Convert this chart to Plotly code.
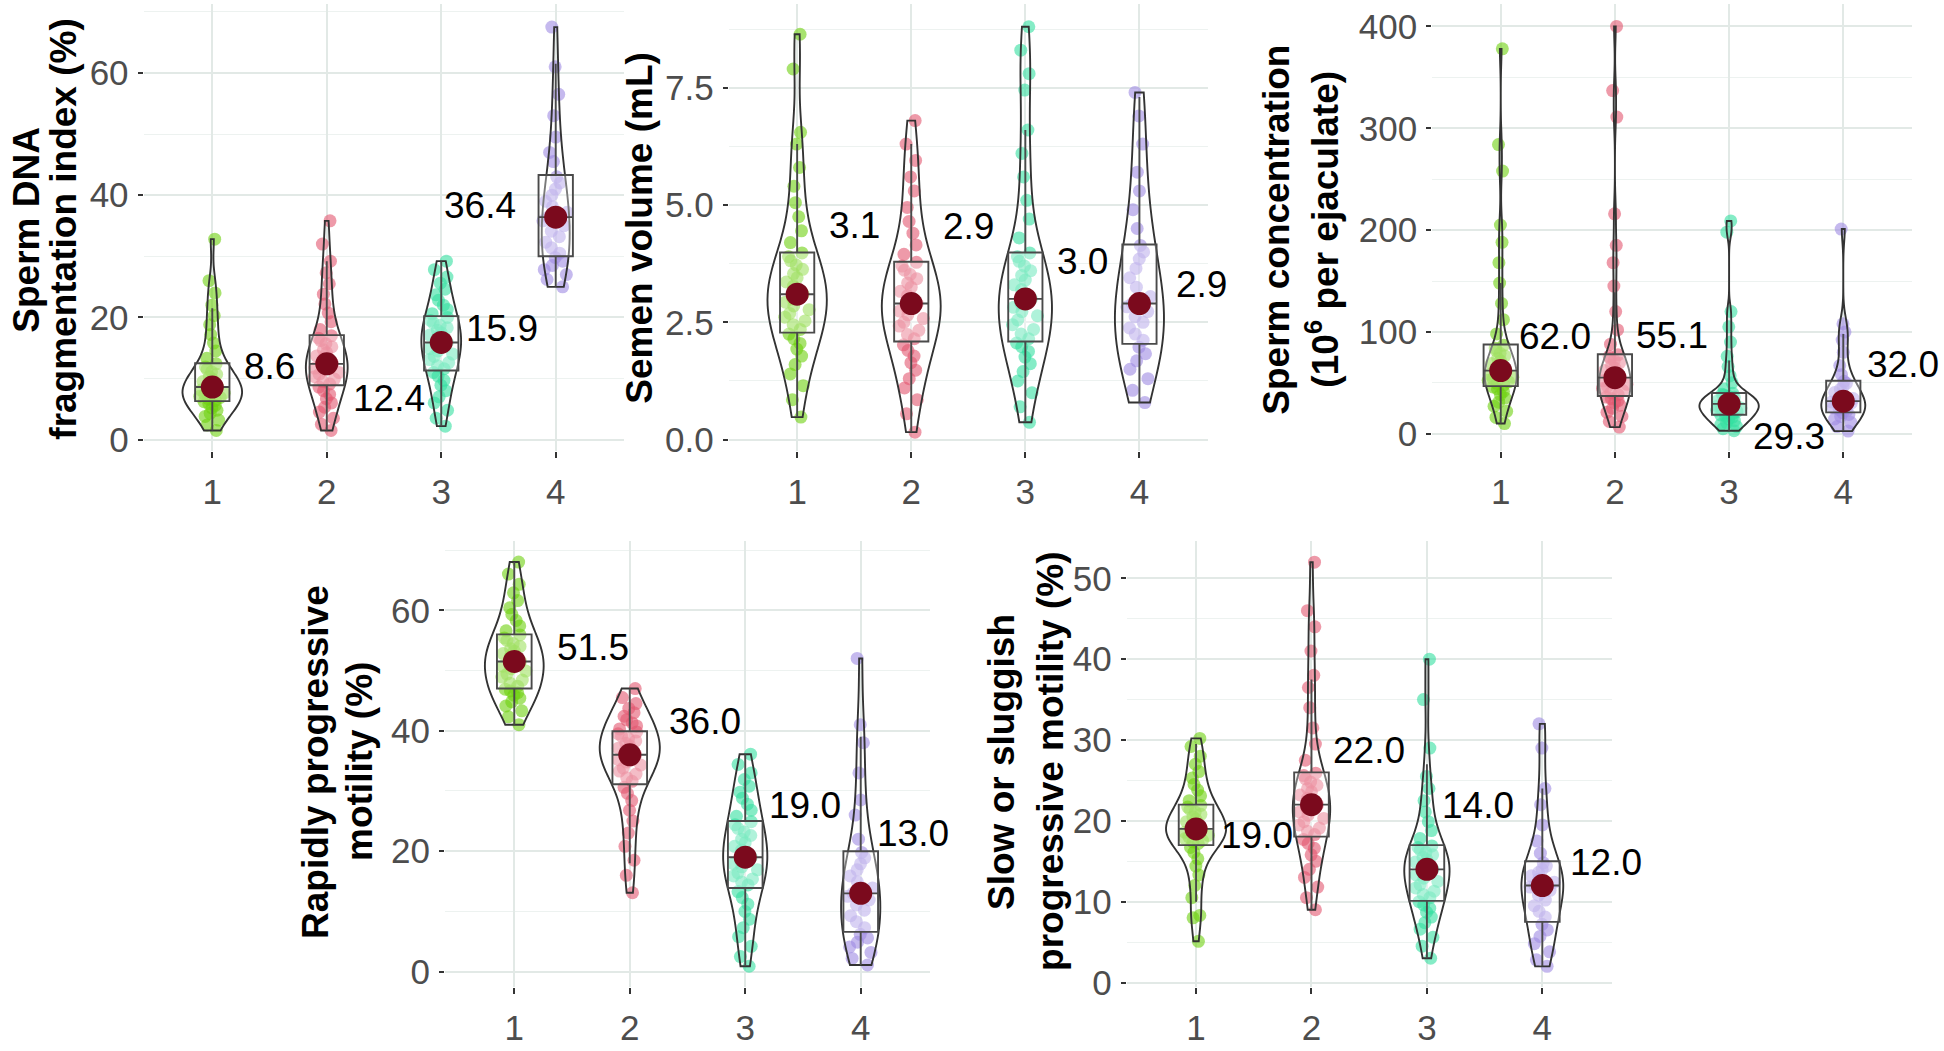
import plotly.graph_objects as go

# ---------------------------------------------------------------- data
categories = [1, 2, 3, 4]
tick_text = ["1", "2", "3", "4"]

# Sperm DNA fragmentation index (%)
dfi_c1 = [1.5, 2.4, 3.2, 3.8, 4.3, 4.8, 5.2, 5.6, 5.9, 6.2,
          6.4, 6.7, 6.9, 7.1, 7.4, 7.6, 7.9, 8.1, 8.3, 8.5, 8.6,
          8.8, 9.2, 9.5, 9.9, 10.3, 10.7, 11.1, 11.5, 11.9, 12.4,
          13.3, 14.5, 15.8, 17.2, 18.8, 20.3, 22.0, 24.0, 26.0, 32.8]
dfi_c2 = [1.5, 2.5, 3.5, 4.5, 5.3, 6.0, 6.7, 7.4, 8.0, 8.6,
          9.1, 9.5, 9.9, 10.3, 10.7, 11.0, 11.4, 11.7, 12.0, 12.2, 12.4,
          12.8, 13.2, 13.7, 14.2, 14.7, 15.2, 15.7, 16.2, 16.6, 17.0,
          18.0, 19.3, 20.7, 22.2, 23.8, 25.5, 27.3, 29.2, 32.0, 35.8]
dfi_c3 = [2.2, 3.5, 4.8, 6.0, 7.0, 8.0, 8.9, 9.7, 10.4, 11.0,
          11.6, 12.1, 12.6, 13.1, 13.6, 14.0, 14.5, 14.9, 15.3, 15.7, 15.9,
          16.3, 16.7, 17.1, 17.5, 17.9, 18.3, 18.7, 19.1, 19.5, 20.0,
          20.6, 21.3, 22.0, 22.8, 23.7, 24.6, 25.6, 26.6, 27.8, 29.2]
dfi_c4 = [25.0, 26.2, 27.0, 27.8, 28.5, 29.2, 29.8,
          30.5, 31.4, 32.3, 33.2, 34.1, 35.0, 35.8, 36.4,
          37.2, 38.1, 39.0, 40.0, 41.0, 42.0, 43.0,
          45.5, 47.0, 49.5, 53.0, 56.5, 61.0, 67.5]
dfi_q1 = [6.3, 8.9, 11.3, 30.0]
dfi_median = [8.6, 12.4, 15.9, 36.4]
dfi_q3 = [12.5, 17.1, 20.2, 43.3]
dfi_lower = [1.5, 1.5, 2.2, 25.0]
dfi_upper = [21.5, 29.2, 29.2, 61.5]

# Semen volume (mL)
vol_c1 = [0.48, 0.85, 1.15, 1.4, 1.6, 1.78, 1.93, 2.05, 2.15, 2.25,
          2.35, 2.45, 2.53, 2.61, 2.69, 2.77, 2.85, 2.93, 3.0, 3.06, 3.1,
          3.18, 3.27, 3.36, 3.45, 3.54, 3.63, 3.72, 3.81, 3.9, 3.98,
          4.2, 4.45, 4.75, 5.05, 5.4, 5.8, 6.3, 6.55, 7.9, 8.64]
vol_c2 = [0.16, 0.55, 0.85, 1.1, 1.3, 1.48, 1.64, 1.78, 1.9, 2.02,
          2.15, 2.24, 2.33, 2.42, 2.5, 2.58, 2.66, 2.74, 2.81, 2.87, 2.9,
          2.98, 3.07, 3.16, 3.25, 3.34, 3.43, 3.52, 3.61, 3.7, 3.78,
          3.95, 4.15, 4.4, 4.65, 4.95, 5.3, 5.6, 5.95, 6.3, 6.8]
vol_c3 = [0.37, 0.7, 1.0, 1.25, 1.45, 1.62, 1.76, 1.88, 1.98, 2.06,
          2.15, 2.25, 2.35, 2.45, 2.55, 2.64, 2.73, 2.82, 2.9, 2.96, 3.0,
          3.1, 3.2, 3.3, 3.4, 3.5, 3.6, 3.7, 3.8, 3.9, 3.98,
          4.3, 4.7, 5.1, 5.6, 6.1, 6.6, 7.45, 7.8, 8.3, 8.8]
vol_c4 = [0.79, 1.05, 1.3, 1.5, 1.68, 1.83, 1.97,
          2.12, 2.25, 2.38, 2.5, 2.62, 2.73, 2.83, 2.9,
          3.05, 3.25, 3.45, 3.65, 3.85, 4.0, 4.14,
          4.5, 4.9, 5.3, 5.7, 6.3, 6.9, 7.4]
vol_q1 = [2.28, 2.09, 2.09, 2.04]
vol_median = [3.1, 2.9, 3.0, 2.9]
vol_q3 = [3.99, 3.79, 3.99, 4.16]
vol_lower = [0.48, 0.16, 0.37, 0.79]
vol_upper = [6.3, 6.3, 6.6, 7.3]

# Sperm concentration (10^6 per ejaculate)
conc_c1 = [10, 16, 22, 27, 31, 35, 38.5, 41.5, 44, 46,
           47.8, 49.5, 51, 52.5, 54, 55.5, 57, 58.5, 60, 61.2, 62,
           64, 66.5, 69, 71.5, 74, 76.5, 79, 81.5, 84, 87,
           98, 112, 128, 148, 168, 188, 205, 258, 284, 378]
conc_c2 = [6.5, 12, 17, 21, 25, 28, 30.5, 32.5, 34.5, 36,
           38.5, 40.5, 42.5, 44.5, 46.5, 48.5, 50.3, 52, 53.5, 54.5, 55.1,
           57, 59.5, 62, 64.5, 67, 69.5, 72, 74, 76, 77.5,
           88, 102, 120, 145, 168, 185, 216, 311, 337, 400]
conc_c3 = [3, 5, 7, 9, 11, 12.8, 14.5, 16, 17.3, 18.4,
           19.5, 20.7, 21.9, 23.1, 24.3, 25.4, 26.4, 27.3, 28.1, 28.8, 29.3,
           30.3, 31.4, 32.5, 33.6, 34.7, 35.8, 36.9, 37.9, 38.9, 39.8,
           44, 50, 57, 66, 76, 90, 105, 120, 198, 209]
conc_c4 = [2.6, 7, 11, 14.5, 17, 19, 20.5,
           22.5, 24, 25.5, 27, 28.5, 30, 31.2, 32,
           34.5, 37.5, 40.5, 43.5, 46.5, 49.5, 51.5,
           58, 67, 80, 92, 100, 108, 201]
conc_q1 = [46.8, 37.0, 18.7, 21.0]
conc_median = [62.0, 55.1, 29.3, 32.0]
conc_q3 = [87.7, 78.0, 40.0, 52.0]
conc_lower = [10, 6.5, 3, 2.6]
conc_upper = [148, 139, 72, 98]

# Rapidly progressive motility (%)
rapid_c1 = [41, 42.3, 43.3, 44.1, 44.8, 45.4, 45.9, 46.3, 46.6, 46.9,
            47.4, 47.9, 48.4, 48.9, 49.4, 49.9, 50.3, 50.7, 51.0, 51.3, 51.5,
            52, 52.4, 52.8, 53.2, 53.6, 54, 54.5, 55, 55.4, 55.9,
            56.6, 57.4, 58.3, 59.3, 60.4, 61.6, 62.9, 64.3, 66, 68]
rapid_c2 = [13.1, 16, 18.5, 20.8, 23, 25, 26.8, 28.4, 29.6, 30.6,
            31.6, 32.2, 32.8, 33.3, 33.8, 34.3, 34.8, 35.2, 35.5, 35.8, 36,
            36.3, 36.7, 37.1, 37.5, 37.9, 38.3, 38.7, 39.1, 39.5, 39.8,
            40.3, 40.8, 41.3, 41.8, 42.4, 43, 43.7, 44.5, 45.5, 47]
rapid_c3 = [0.9, 2.5, 4.2, 5.8, 7.3, 8.7, 10, 11.2, 12.3, 13.3,
            14.4, 14.9, 15.4, 15.9, 16.4, 16.9, 17.4, 17.9, 18.4, 18.8, 19,
            19.6, 20.2, 20.8, 21.4, 22, 22.6, 23.2, 23.8, 24.4, 24.9,
            25.8, 26.8, 27.8, 28.8, 29.8, 30.8, 31.9, 33, 34.4, 36.1]
rapid_c4 = [1.1, 2.2, 3.2, 4.1, 4.9, 5.6, 6.2,
            7.3, 8.3, 9.3, 10.2, 11.1, 11.9, 12.5, 13,
            13.9, 14.9, 15.9, 16.9, 17.9, 18.9, 19.8,
            22, 26, 28.5, 33, 38, 41, 52]
rapid_q1 = [47.0, 31.1, 13.9, 6.6]
rapid_median = [51.5, 36.0, 19.0, 13.0]
rapid_q3 = [56.0, 39.9, 25.0, 20.0]
rapid_lower = [41, 18, 0.9, 1.1]
rapid_upper = [68, 47, 36.1, 39]

# Slow or sluggish progressive motility (%)
slow_c1 = [5.1, 8, 8.3, 10.5, 12, 13.3, 14.4, 15.3, 16.1, 16.7,
           17.2, 17.4, 17.6, 17.8, 18, 18.2, 18.4, 18.6, 18.8, 18.9, 19,
           19.3, 19.6, 19.9, 20.2, 20.5, 20.8, 21.1, 21.4, 21.7, 21.9,
           22.5, 23.1, 23.8, 24.5, 25.3, 26.1, 27, 28, 29.2, 30.2]
slow_c2 = [9, 10.5, 11.8, 13, 14, 15, 15.8, 16.6, 17.2, 17.7,
           18.3, 18.7, 19.1, 19.5, 19.9, 20.3, 20.7, 21.1, 21.5, 21.8, 22,
           22.4, 22.8, 23.2, 23.6, 24, 24.4, 24.8, 25.2, 25.6, 25.9,
           27.5, 29.5, 31.5, 34, 36.5, 38, 41, 44, 46, 52]
slow_c3 = [3, 4.5, 5.6, 6.6, 7.4, 8.1, 8.7, 9.2, 9.6, 10,
           10.5, 10.9, 11.3, 11.7, 12.1, 12.5, 12.9, 13.3, 13.6, 13.8, 14,
           14.3, 14.6, 14.9, 15.2, 15.5, 15.8, 16.1, 16.4, 16.7, 16.9,
           17.8, 18.8, 19.9, 21.1, 22.5, 24, 25.5, 29, 35, 40]
slow_c4 = [2, 2.8, 3.8, 4.8, 5.7, 6.5, 7.2,
           8.1, 8.8, 9.5, 10.2, 10.8, 11.4, 11.8, 12,
           12.4, 12.8, 13.2, 13.6, 14, 14.4, 14.8,
           16, 17.5, 19.5, 22, 24, 29, 32]
slow_q1 = [17.0, 18.05, 10.1, 7.5]
slow_median = [19.0, 22.0, 14.0, 12.0]
slow_q3 = [22.0, 26.0, 17.0, 15.0]
slow_lower = [10, 9, 3, 2]
slow_upper = [29.5, 37.5, 27, 24]

# ---------------------------------------------------------------- style / layout
W, H = 1944, 1051
FONT = "Liberation Sans, Arial, Helvetica, sans-serif"
GROUP_COLORS = ["#6ED10F", "#E2566F", "#33E0A0", "#9E8AE2"]
DOT_COLOR = "#7B0A1D"
GRID = "#E2E9E6"
GRID_MINOR = "#EDF2F0"
VIOLIN_WIDTH = 0.52

panels = [
    dict(values=[dfi_c1, dfi_c2, dfi_c3, dfi_c4], q1=dfi_q1, med=dfi_median, q3=dfi_q3,
         lo=dfi_lower, hi=dfi_upper,
         xpx=(143.6, 624.4), ypx=(4, 458), yrange=[-1.94, 71.29], dtick=20, fmt="d",
         titles=[("<b>Sperm DNA</b>", 27, 233), ("<b>fragmentation index (%)</b>", 64, 233)],
         offsets=[(57, -21), (62, 35), (61, -14), (-76, -12)]),
    dict(values=[vol_c1, vol_c2, vol_c3, vol_c4], q1=vol_q1, med=vol_median, q3=vol_q3,
         lo=vol_lower, hi=vol_upper,
         xpx=(728.7, 1207.9), ypx=(4, 458), yrange=[-0.252, 9.286], dtick=2.5, fmt=".1f",
         titles=[("<b>Semen volume (mL)</b>", 640, 231)],
         offsets=[(57, -69), (57, -77), (57, -37), (62, -19)]),
    dict(values=[conc_c1, conc_c2, conc_c3, conc_c4], q1=conc_q1, med=conc_median, q3=conc_q3,
         lo=conc_lower, hi=conc_upper,
         xpx=(1432.2, 1911.8), ypx=(4, 458), yrange=[-17.4, 422.1], dtick=100, fmt="d",
         titles=[("<b>Sperm concentration</b>", 1277, 233),
                 ("<b>(10<sup>6</sup> per ejaculate)</b>", 1323, 233)],
         offsets=[(54, -34), (57, -42), (60, 33), (60, -37)]),
    dict(values=[rapid_c1, rapid_c2, rapid_c3, rapid_c4], q1=rapid_q1, med=rapid_median, q3=rapid_q3,
         lo=rapid_lower, hi=rapid_upper,
         xpx=(445, 930), ypx=(549, 1001), yrange=[-2.5, 71.47], dtick=20, fmt="d",
         titles=[("<b>Rapidly progressive</b>", 316, 773), ("<b>motility (%)</b>", 360, 773)],
         offsets=[(79, -14), (75, -33), (60, -52), (52, -60)]),
    dict(values=[slow_c1, slow_c2, slow_c3, slow_c4], q1=slow_q1, med=slow_median, q3=slow_q3,
         lo=slow_lower, hi=slow_upper,
         xpx=(1126.8, 1611.6), ypx=(549, 1001), yrange=[-0.52, 54.6], dtick=10, fmt="d",
         titles=[("<b>Slow or sluggish</b>", 1002, 773),
                 ("<b>progressive motility (%)</b>", 1051, 773)],
         offsets=[(61, 7), (58, -54), (51, -64), (64, -23)]),
]

fig = go.Figure()
annotations = []
layout = dict(width=W, height=H, margin=dict(l=0, r=0, t=0, b=0),
              plot_bgcolor="white", paper_bgcolor="white",
              violinmode="overlay", boxmode="overlay", showlegend=False,
              font=dict(family=FONT))

for p, P in enumerate(panels):
    k = "" if p == 0 else str(p + 1)
    xa, ya = "x" + k, "y" + k

    # jittered points (one trace per group for its colour)
    for g in range(4):
        fig.add_trace(go.Violin(
            x0=categories[g], y=P["values"][g], xaxis=xa, yaxis=ya,
            points="all", pointpos=0, jitter=0.46, width=VIOLIN_WIDTH,
            spanmode="hard", fillcolor="rgba(0,0,0,0)",
            line=dict(width=0, color="rgba(0,0,0,0)"),
            marker=dict(color=GROUP_COLORS[g], size=13, opacity=0.6, line=dict(width=0)),
            hoverinfo="skip", name="c%d" % (g + 1)))

    # violin outlines: one trace for all groups so widths share one density scale (area-like)
    vx, vy = [], []
    for g in range(4):
        vx += [categories[g]] * len(P["values"][g])
        vy += P["values"][g]
    fig.add_trace(go.Violin(
        x=vx, y=vy, xaxis=xa, yaxis=ya, points=False, width=VIOLIN_WIDTH,
        scalemode="width", spanmode="hard",
        fillcolor="rgba(0,0,0,0)", line=dict(width=1.9, color="#333333"),
        hoverinfo="skip", name="outline"))

    # boxes
    fig.add_trace(go.Box(
        x=categories, q1=P["q1"], median=P["med"], q3=P["q3"],
        lowerfence=P["lo"], upperfence=P["hi"], xaxis=xa, yaxis=ya,
        width=0.3, whiskerwidth=0, boxpoints=False,
        fillcolor="rgba(255,255,255,0.35)", line=dict(color="#4A4A4A", width=1.9),
        hoverinfo="skip"))

    # medians
    fig.add_trace(go.Scatter(
        x=categories, y=P["med"], xaxis=xa, yaxis=ya, mode="markers",
        marker=dict(size=23, color=DOT_COLOR), hoverinfo="skip"))

    for g in range(4):
        dx, dy = P["offsets"][g]
        annotations.append(dict(
            x=categories[g], y=P["med"][g], xref=xa, yref=ya,
            text="%.1f" % P["med"][g], showarrow=False,
            xshift=dx, yshift=-dy, xanchor="center", yanchor="middle",
            font=dict(size=37, color="black", family=FONT)))

    for text, tx, ty in P["titles"]:
        annotations.append(dict(
            x=tx / W, y=1 - ty / H, xref="paper", yref="paper", text=text,
            showarrow=False, textangle=-90, xanchor="center", yanchor="middle",
            font=dict(size=37, color="black", family=FONT)))

    x0, x1 = P["xpx"]
    y0, y1 = P["ypx"]
    layout["xaxis" + k] = dict(
        domain=[x0 / W, x1 / W], range=[0.4, 4.6], type="linear",
        tickmode="array", tickvals=categories, ticktext=tick_text,
        showgrid=True, gridcolor=GRID, gridwidth=1.6, zeroline=False, showline=False,
        ticks="outside", ticklen=6, tickwidth=1.6, tickcolor="#333333",
        tickfont=dict(size=35, color="#4D4D4D", family=FONT), ticklabelstandoff=4,
        anchor=ya, fixedrange=True)
    layout["yaxis" + k] = dict(
        domain=[1 - y1 / H, 1 - y0 / H], range=P["yrange"],
        tickmode="linear", tick0=0, dtick=P["dtick"], tickformat=P["fmt"],
        showgrid=True, gridcolor=GRID, gridwidth=1.6,
        minor=dict(tick0=0, dtick=P["dtick"] / 2, showgrid=True,
                   gridcolor=GRID_MINOR, gridwidth=1.3),
        zeroline=False, showline=False,
        ticks="outside", ticklen=5, tickwidth=1.6, tickcolor="#333333",
        tickfont=dict(size=35, color="#4D4D4D", family=FONT), ticklabelstandoff=2,
        anchor=xa, fixedrange=True)

layout["annotations"] = annotations
fig.update_layout(**layout)
fig.write_html("out.html",
               config={"displayModeBar": False},
               post_script="document.body.style.margin='0';"
                           "document.body.style.overflow='hidden';")
